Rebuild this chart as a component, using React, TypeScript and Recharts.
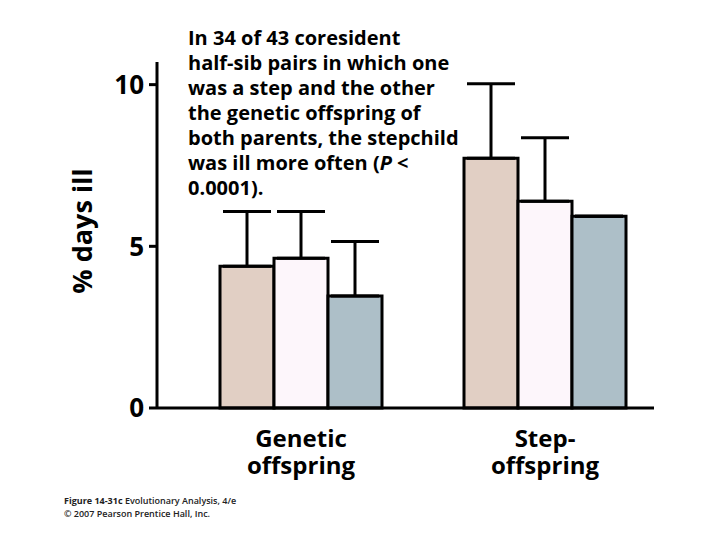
import React from 'react';
import { BarChart, Bar, XAxis, YAxis, ErrorBar } from 'recharts';

const categories = ['Genetic|offspring', 'Step-|offspring'];
const seriesA = [4.38, 7.72];
const errA = [1.7, 2.31];
const seriesB = [4.63, 6.39];
const errB = [1.45, 1.97];
const seriesC = [3.46, 5.93];
const errC = [1.69, 0];
const yTicks = [0, 5, 10];

const noteLines = [
  'In 34 of 43 coresident',
  'half-sib pairs in which one',
  'was a step and the other',
  'the genetic offspring of',
  'both parents, the stepchild',
  'was ill more often (|P| <',
  '0.0001).',
];

const data = categories.map((c, i) => ({
  cat: c,
  a: seriesA[i],
  aErr: [0, errA[i]],
  b: seriesB[i],
  bErr: [0, errB[i]],
  c: seriesC[i],
  cErr: [0, errC[i]],
}));

const FONT = '"Open Sans", sans-serif';

const XTick = (props: any) => {
  const { x, y, payload } = props;
  const lines = String(payload.value).split('|');
  return (
    <text
      x={x}
      y={y + 39}
      textAnchor="middle"
      fontFamily={FONT}
      fontWeight={700}
      fontSize={24}
      fill="#000"
    >
      {lines.map((l, i) => (
        <tspan key={i} x={x} dy={i === 0 ? 0 : 27}>
          {l}
        </tspan>
      ))}
    </text>
  );
};

export default function App() {
  return (
    <div style={{ position: 'absolute', left: 0, top: 0, width: 720, height: 540, background: '#fff' }}>
      <BarChart
        width={720}
        height={540}
        data={data}
        margin={{ top: 62, right: 66, bottom: 52, left: 67 }}
        barSize={54}
        barGap={0}
      >
        <XAxis
          dataKey="cat"
          tick={<XTick />}
          tickLine={false}
          tickSize={0}
          tickMargin={0}
          height={80}
          axisLine={{ stroke: '#000', strokeWidth: 3 }}
          padding={{ left: 22, right: -13 }}
          interval={0}
        />
        <YAxis
          width={90}
          domain={[0, 10.7]}
          ticks={yTicks}
          interval={0}
          tickSize={8}
          tickMargin={5}
          axisLine={{ stroke: '#000', strokeWidth: 3 }}
          tickLine={{ stroke: '#000', strokeWidth: 3 }}
          tick={{ fill: '#000', fontSize: 26, fontWeight: 700, fontFamily: FONT }}
        />
        <Bar dataKey="a" fill="#e1cfc4" stroke="#000" strokeWidth={3} isAnimationActive={false}>
          <ErrorBar dataKey="aErr" width={24} stroke="#000" strokeWidth={3} direction="y" />
        </Bar>
        <Bar dataKey="b" fill="#fdf6fb" stroke="#000" strokeWidth={3} isAnimationActive={false}>
          <ErrorBar dataKey="bErr" width={24} stroke="#000" strokeWidth={3} direction="y" />
        </Bar>
        <Bar dataKey="c" fill="#adbfc8" stroke="#000" strokeWidth={3} isAnimationActive={false}>
          <ErrorBar dataKey="cErr" width={24} stroke="#000" strokeWidth={3} direction="y" />
        </Bar>
      </BarChart>
      <svg
        width={720}
        height={540}
        style={{ position: 'absolute', left: 0, top: 0, pointerEvents: 'none' }}
      >
        <text
          transform="translate(92,231) rotate(-90)"
          textAnchor="middle"
          fontFamily={FONT}
          fontWeight={700}
          fontSize={27}
          fill="#000"
        >
          % days ill
        </text>
        {noteLines.map((l, i) => {
          const parts = l.split('|');
          return (
            <text
              key={i}
              x={188}
              y={45 + i * 25}
              fontFamily={FONT}
              fontWeight={700}
              fontSize={20}
              fill="#000"
            >
              {parts.map((p, j) => (
                <tspan key={j} fontStyle={j === 1 ? 'italic' : 'normal'}>
                  {p}
                </tspan>
              ))}
            </text>
          );
        })}
        <text x={64} y={504} fontFamily={FONT} fontWeight={700} fontSize={9} fill="#222">
          Figure 14-31c{'  '}
          <tspan fontWeight={600}>Evolutionary Analysis, 4/e</tspan>
        </text>
        <text x={64} y={517} fontFamily={FONT} fontWeight={600} fontSize={9} fill="#222">
          © 2007 Pearson Prentice Hall, Inc.
        </text>
      </svg>
    </div>
  );
}
